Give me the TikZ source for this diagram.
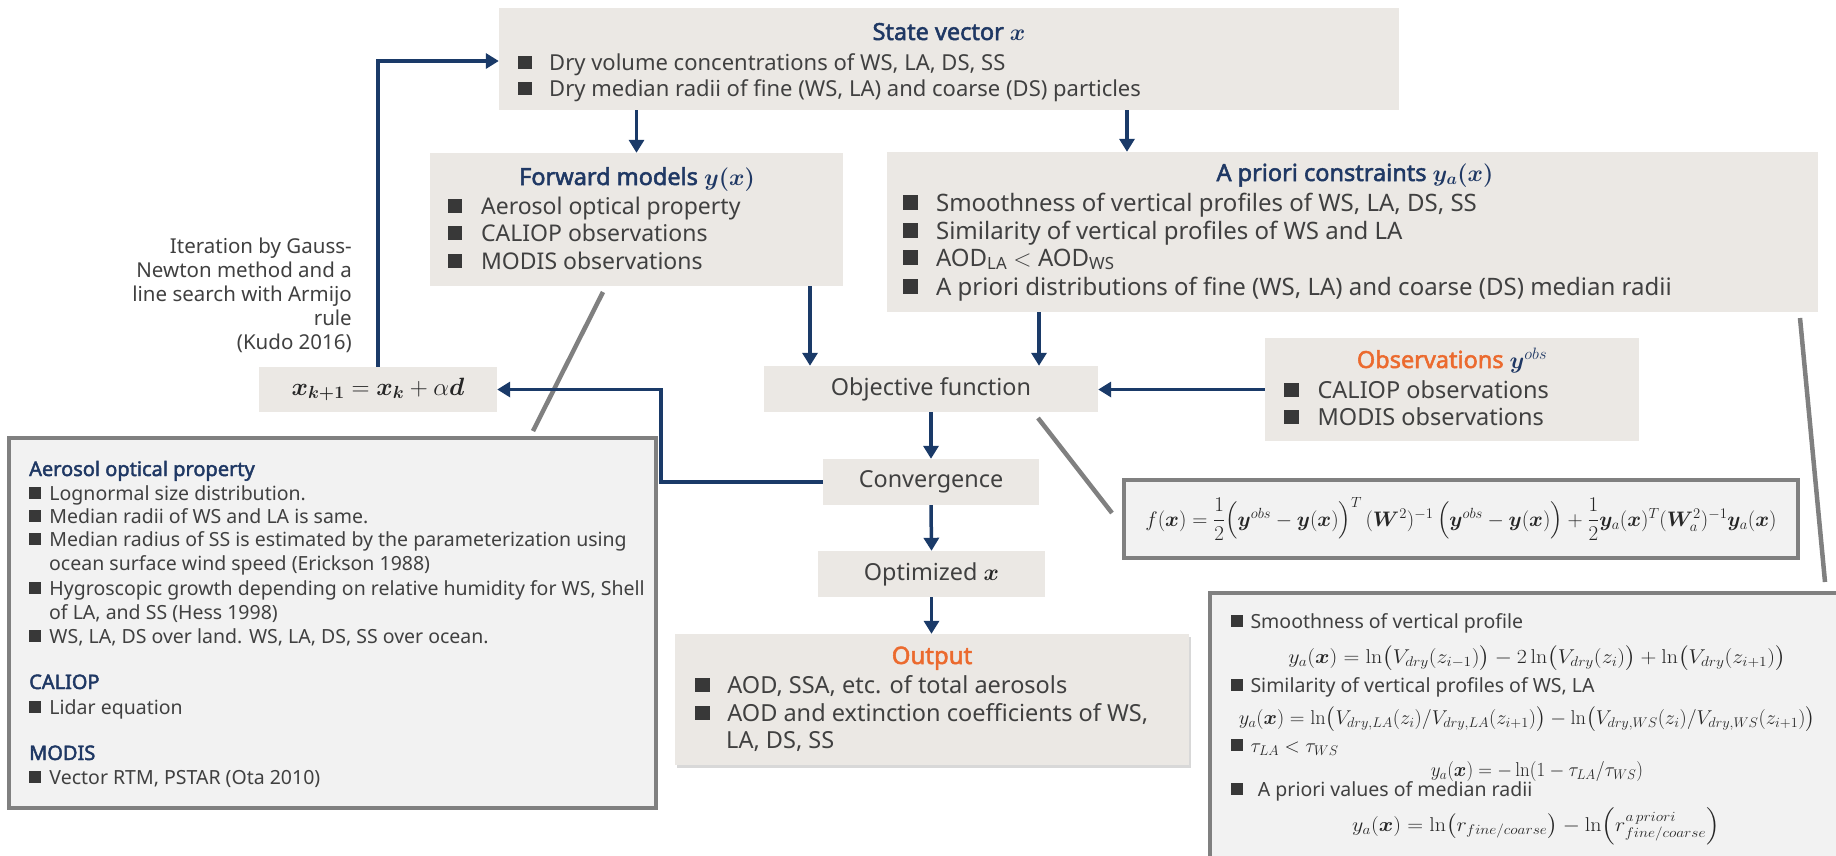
\RequirePackage{fix-cm}
\documentclass[tikz,border=0pt]{standalone}
\usepackage{amsmath}
\usepackage{bm}
\usepackage{graphicx}
\usepackage[no-math]{fontspec}
\setmainfont{Noto Sans}
\newfontfamily\bff[FakeBold=2.2]{Noto Sans}
\usetikzlibrary{arrows.meta,shadows}
\definecolor{navy}{HTML}{1F3864}
\definecolor{arrowc}{HTML}{1A3A68}
\definecolor{boxfill}{HTML}{EBE8E4}
\definecolor{panelfill}{HTML}{F2F2F2}
\definecolor{panelline}{HTML}{808080}
\definecolor{orangec}{HTML}{EB6A2E}
\definecolor{txt}{HTML}{404040}
\definecolor{bulc}{HTML}{383838}
\definecolor{mathc}{HTML}{262626}
\newcommand{\fsz}[1]{\fontsize{#1}{#1}\selectfont}
\newcommand{\bsq}{{\color{bulc}\rule[0.03em]{0.62em}{0.62em}}}
\begin{document}
\begin{tikzpicture}[x=1pt,y=-1pt,
  box/.style={fill=boxfill, draw=none, inner sep=0pt},
  panel/.style={fill=panelfill, draw=panelline, line width=4.5pt, inner sep=0pt},
  arr/.style={draw=arrowc, line width=3.5pt, -{Triangle[length=13pt,width=15pt]}},
  glink/.style={draw=panelline, line width=4.5pt},
  ln/.style={anchor=base west, inner sep=0pt, text=txt},
  fml/.style={inner sep=0pt, text=mathc},
  ttl/.style={anchor=base, inner sep=0pt, font=\fsz{23.5}\bff, text=navy},
  hd/.style={anchor=base west, inner sep=0pt, font=\fsz{20}\bff, text=navy},
  every node/.style={text=txt}]
\useasboundingbox (0,0) rectangle (1836,855);
\fill[white] (0,0) rectangle (1836,855);

% named helper coordinates
\coordinate (ax1) at (1127,0);
\coordinate (ax2) at (810,0);
\coordinate (ax3) at (1039,0);
\coordinate (lx) at (661,0);
\coordinate (ly) at (0,61);
\coordinate (g1a) at (603,292);
\coordinate (g1b) at (533,431);
\coordinate (g2a) at (1038,418);
\coordinate (g2b) at (1112,513);
\coordinate (g3a) at (1800,318);
\coordinate (g3b) at (1825,582);

% boxes
\node[box, minimum width=900pt, minimum height=102pt] (sv) at (949,59) {};
\node[box, minimum width=413pt, minimum height=133pt] (fw) at (636.5,219.5) {};
\node[box, minimum width=931pt, minimum height=160pt] (ap) at (1352.5,232) {};
\node[box, minimum width=238pt, minimum height=45pt, font=\fsz{25}, text=mathc] (xk) at (378,389.5) {$\bm{x}_{\bm{k+1}}=\bm{x}_{\bm{k}}+\alpha\bm{d}$};
\node[box, minimum width=334pt, minimum height=46pt, font=\fsz{23.4}] (ob) at (931,389) {Objective function};
\node[box, minimum width=374pt, minimum height=103pt] (obs) at (1452,389.5) {};
\node[box, minimum width=216pt, minimum height=46pt, font=\fsz{23.4}] (cv) at (931,482) {Convergence};
\node[box, minimum width=227pt, minimum height=46pt, font=\fsz{23.4}] (op) at (931.5,574) {Optimized {\color{mathc}$\bm{x}$}};
\node[box, drop shadow={shadow xshift=1.5pt, shadow yshift=-3pt, opacity=0.3}, minimum width=514pt, minimum height=131pt] (out) at (932,699.5) {};

% grey callout links
\draw[glink] (g1a) -- (g1b);
\draw[glink] (g2a) -- (g2b);
\draw[glink] (g3a) -- (g3b);

% panels
\node[panel, minimum width=647pt, minimum height=370pt] (lp) at (332.5,623) {};
\node[panel, minimum width=674pt, minimum height=78pt, font=\fsz{21}, text=mathc] (fb) at (1461,519)
 {$f(\bm{x})=\dfrac{1}{2}\Bigl(\bm{y}^{obs}-\bm{y}(\bm{x})\Bigr)^{T}\,(\bm{W}^{2})^{-1}\,\Bigl(\bm{y}^{obs}-\bm{y}(\bm{x})\Bigr)+\dfrac{1}{2}\bm{y}_{a}(\bm{x})^{T}(\bm{W}_{a}^{2})^{-1}\bm{y}_{a}(\bm{x})$};
\node[panel, minimum width=652pt, minimum height=280pt] (br) at (1536,733) {};

% connectors
\draw[arr] (sv.south -| fw.north) -- (fw.north);
\draw[arr] (sv.south -| ax1) -- (ap.north -| ax1);
\draw[arr] (fw.south -| ax2) -- (ob.north -| ax2);
\draw[arr] (ap.south -| ax3) -- (ob.north -| ax3);
\draw[arr] (obs.west) -- (obs.west -| ob.east);
\draw[arr] (ob.south) -- (cv.north);
\draw[arr] (cv.south) -- (op.north);
\draw[arr] (op.south) -- (op.south |- out.north);
\draw[arr] (cv.west) -- (cv.west -| lx) -- (lx |- xk.east) -- (xk.east);
\draw[arr] (xk.north) -- (xk.north |- ly) -- (sv.west |- ly);

% state vector
\node[ttl] (svt) at (949,40) {State vector {$\bm{x}$}};
\node[ln, font=\fsz{22}] (sv1) at (518,70) {\bsq\hspace{0.79em}Dry volume concentrations of WS, LA, DS, SS};
\node[ln, font=\fsz{22}] (sv2) at (518,96) {\bsq\hspace{0.79em}Dry median radii of fine (WS, LA) and coarse (DS) particles};

% forward models
\node[ttl] (fwt) at (637,185) {Forward models $\bm{y(x)}$};
\node[ln, font=\fsz{23}] (fw1) at (448,214) {\bsq\hspace{0.81em}Aerosol optical property};
\node[ln, font=\fsz{23}] (fw2) at (448,241) {\bsq\hspace{0.81em}CALIOP observations};
\node[ln, font=\fsz{23}] (fw3) at (448,269) {\bsq\hspace{0.81em}MODIS observations};

% a priori
\node[ttl] (apt) at (1355,181) {A priori constraints $\bm{y_a(x)}$};
\node[ln, font=\fsz{24}] (ap1) at (903,211) {\bsq\hspace{0.75em}Smoothness of vertical profiles of WS, LA, DS, SS};
\node[ln, font=\fsz{24}] (ap2) at (903,239) {\bsq\hspace{0.75em}Similarity of vertical profiles of WS and LA};
\node[ln, font=\fsz{24}] (ap3) at (903,266) {\bsq\hspace{0.75em}AOD\textsubscript{LA} $<$ AOD\textsubscript{WS}};
\node[ln, font=\fsz{24}] (ap4) at (903,295) {\bsq\hspace{0.75em}A priori distributions of fine (WS, LA) and coarse (DS) median radii};

% iteration note
\node[anchor=base east, inner sep=0pt, font=\fsz{20.5}, align=right] (it) at (352,349)
 {Iteration by Gauss-\\[3.5pt]Newton method and a\\[3.5pt]line search with Armijo\\[3.5pt]rule\\[3.5pt](Kudo 2016)};

% observations
\node[anchor=base, inner sep=0pt, font=\fsz{23.5}\bff] (obst) at (1452,368) {{\color{orangec}Observations} {\color{navy}$\bm{y}^{obs}$}};
\node[ln, font=\fsz{23.5}] (obs1) at (1284,398) {\bsq\hspace{0.8em}CALIOP observations};
\node[ln, font=\fsz{23.5}] (obs2) at (1284,425) {\bsq\hspace{0.8em}MODIS observations};

% output
\node[anchor=base, inner sep=0pt, font=\fsz{24}\bff, text=orangec] (outt) at (932,664) {Output};
\node[ln, font=\fsz{23.5}] (out1) at (695,693) {\bsq\hspace{0.75em}AOD, SSA, etc. of total aerosols};
\node[ln, font=\fsz{23.5}] (out2) at (695,721) {\bsq\hspace{0.75em}AOD and extinction coefficients of WS,};
\node[ln, font=\fsz{23.5}] (out3) at (726,748) {LA, DS, SS};

% left panel
\node[hd] (lph1) at (29,476) {Aerosol optical property};
\node[ln, font=\fsz{19.5}] (lp1) at (29,500) {\bsq\hspace{0.42em}Lognormal size distribution.};
\node[ln, font=\fsz{19.5}] (lp2) at (29,523) {\bsq\hspace{0.42em}Median radii of WS and LA is same.};
\node[ln, font=\fsz{19.5}] (lp3) at (29,546) {\bsq\hspace{0.42em}Median radius of SS is estimated by the parameterization using};
\node[ln, font=\fsz{19.5}] (lp4) at (49,570) {ocean surface wind speed (Erickson 1988)};
\node[ln, font=\fsz{19.5}] (lp5) at (29,595) {\bsq\hspace{0.42em}Hygroscopic growth depending on relative humidity for WS, Shell};
\node[ln, font=\fsz{19.5}] (lp6) at (49,619) {of LA, and SS (Hess 1998)};
\node[ln, font=\fsz{19.5}] (lp7) at (29,643) {\bsq\hspace{0.42em}WS, LA, DS over land. WS, LA, DS, SS over ocean.};
\node[hd] (lph2) at (29,689) {CALIOP};
\node[ln, font=\fsz{19.5}] (lp8) at (29,714) {\bsq\hspace{0.42em}Lidar equation};
\node[hd] (lph3) at (29,760) {MODIS};
\node[ln, font=\fsz{19.5}] (lp9) at (29,784) {\bsq\hspace{0.42em}Vector RTM, PSTAR (Ota 2010)};

% bottom-right panel
\node[ln, font=\fsz{19.5}] (br1) at (1231,628) {\bsq\hspace{0.37em}Smoothness of vertical profile};
\node[fml, font=\fsz{20}] (brf1) at (1537,658) {\scalebox{1.1}[1]{$y_a(\bm{x})=\ln\bigl(V_{dry}(z_{i-1})\bigr)-2\ln\bigl(V_{dry}(z_i)\bigr)+\ln\bigl(V_{dry}(z_{i+1})\bigr)$}};
\node[ln, font=\fsz{19.5}] (br2) at (1231,692) {\bsq\hspace{0.37em}Similarity of vertical profiles of WS, LA};
\node[fml, font=\fsz{20}] (brf2) at (1527,719) {\scalebox{1.02}[1]{$y_a(\bm{x})=\ln\bigl(V_{dry,LA}(z_i)/V_{dry,LA}(z_{i+1})\bigr)-\ln\bigl(V_{dry,WS}(z_i)/V_{dry,WS}(z_{i+1})\bigr)$}};
\node[ln, font=\fsz{19.5}] (br3) at (1231,752) {\bsq\hspace{0.37em}{\color{mathc}\fsz{20}$\tau_{LA}<\tau_{WS}$}};
\node[fml, font=\fsz{20}] (brf3) at (1537,771) {\scalebox{0.95}[1]{$y_a(\bm{x})=-\ln(1-\tau_{LA}/\tau_{WS})$}};
\node[ln, font=\fsz{19.5}] (br4) at (1231,796) {\bsq\hspace{0.75em}A priori values of median radii};
\node[fml, font=\fsz{20}] (brf4) at (1536,826) {\scalebox{1.1}[1]{$y_a(\bm{x})=\ln\bigl(r_{fine/coarse}\bigr)-\ln\Bigl(r_{fine/coarse}^{a\,priori}\Bigr)$}};
\end{tikzpicture}
\end{document}
